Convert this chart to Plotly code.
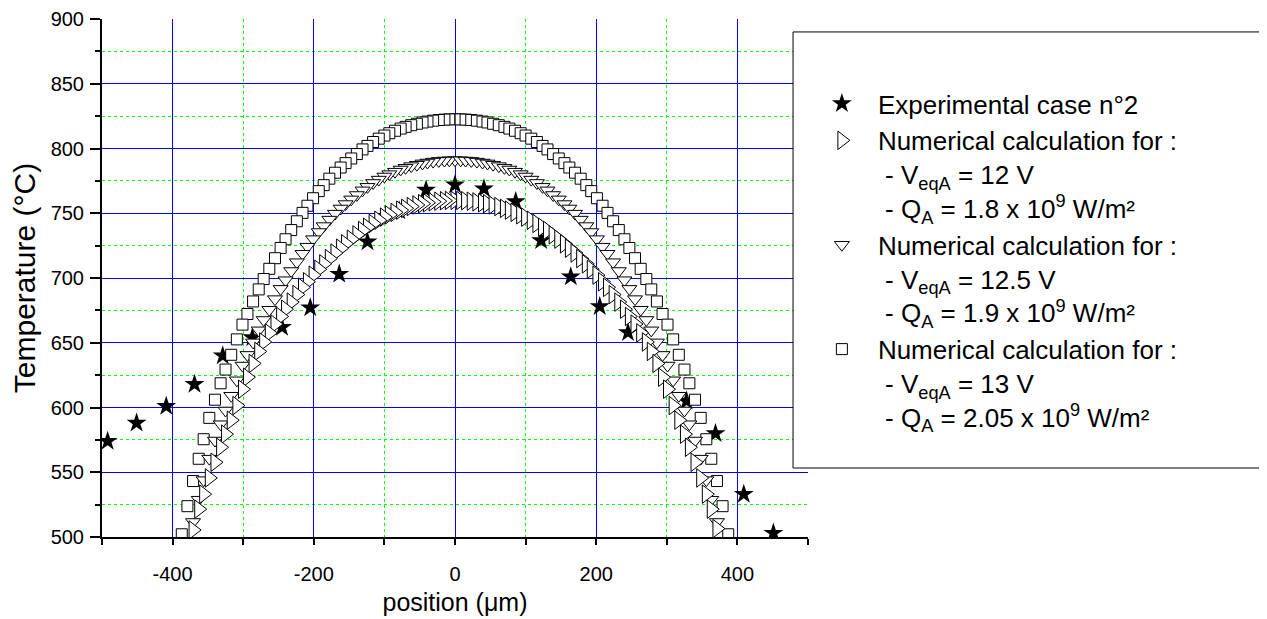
import plotly.graph_objects as go

# experimental points (stars)
X_EXP = [-492, -451, -409, -369, -329, -287, -245, -205, -164, -124, -79, -41, 0,
         41, 86, 122, 164, 205, 245, 328, 369, 409, 451]
Y_EXP = [574, 588, 601, 618, 640, 654, 662, 677, 703, 728, 752, 768, 772,
         769, 759, 729, 701, 678, 658, 605, 580, 533, 503]

# numerical mesh positions, listed from the centre outwards (left half, then right half)
X_NUM = [0, -8, -15, -23, -31, -39, -46, -54, -62, -70, -77, -85, -93, -100, -108, -116,
         -124, -131, -139, -147, -155, -162, -170, -178, -186, -193, -201, -209, -216,
         -224, -232, -240, -247, -255, -263, -271, -278, -286, -294, -301, -309, -317,
         -325, -332, -340, -348, -356, -363, -371, -379, -387,
         8, 15, 23, 31, 39, 46, 54, 62, 70, 77, 85, 93, 100, 108, 116,
         124, 131, 139, 147, 155, 162, 170, 178, 186, 193, 201, 209, 216,
         224, 232, 240, 247, 255, 263, 271, 278, 286, 294, 301, 309, 317,
         325, 332, 340, 348, 356, 363, 371, 379, 387]

# V = 12 V  (triangles right)
Y_12 = [760.0, 759.9, 759.7, 759.3, 758.8, 758.1, 757.4, 756.4, 755.2, 753.8, 752.4, 750.7,
        748.8, 747.0, 744.6, 742.1, 739.2, 736.7, 733.3, 730.0, 726.4, 723.0, 719.3, 715.0,
        710.9, 706.7, 702.2, 697.1, 692.8, 687.2, 681.4, 675.9, 670.3, 664.4, 657.6, 650.6,
        643.3, 634.0, 623.4, 614.1, 601.5, 590.2, 579.4, 569.3, 557.7, 545.6, 533.1, 521.5,
        505.4, None, None,
        759.9, 759.7, 759.3, 758.8, 758.1, 757.4, 756.4, 755.2, 753.8, 752.4, 750.7,
        748.8, 747.0, 744.6, 742.1, 739.2, 736.7, 733.3, 730.0, 726.4, 723.0, 719.3, 715.0,
        710.9, 706.7, 702.2, 697.1, 692.8, 687.2, 681.4, 675.9, 670.3, 664.4, 657.6, 650.6,
        643.3, 634.0, 623.4, 614.1, 601.5, 590.2, 579.4, 569.3, 557.7, 545.6, 533.1, 521.5,
        506.5, None, None]

# V = 12.5 V  (triangles down)
Y_125 = [791.0, 790.9, 790.7, 790.4, 789.9, 789.2, 788.5, 787.5, 786.4, 785.1, 783.8, 782.1,
         780.2, 778.4, 776.0, 773.4, 770.4, 767.7, 764.1, 760.7, 757.1, 753.7, 749.7, 745.1,
         740.1, 735.5, 730.0, 724.2, 718.7, 712.2, 705.4, 698.3, 691.6, 683.7, 675.5, 667.6,
         659.6, 650.3, 640.6, 632.4, 621.0, 609.1, 597.7, 587.1, 574.5, 560.5, 543.9, 528.8,
         511.6, None, None,
         790.9, 790.7, 790.4, 789.9, 789.2, 788.5, 787.5, 786.4, 785.1, 783.8, 782.1,
         780.2, 778.4, 776.0, 773.4, 770.4, 767.7, 764.1, 760.7, 757.1, 753.7, 749.7, 745.1,
         740.1, 735.5, 730.0, 724.2, 718.7, 712.2, 705.4, 698.3, 691.6, 683.7, 675.5, 667.6,
         659.6, 650.3, 640.6, 632.4, 621.0, 609.1, 597.7, 587.1, 574.5, 560.5, 543.9, 528.8,
         511.6, None, None]

# V = 13 V  (squares)
Y_13 = [822.6, 822.5, 822.3, 822.0, 821.5, 820.8, 820.1, 819.1, 818.0, 816.7, 815.4, 813.7,
        811.8, 810.0, 807.6, 805.0, 802.0, 799.3, 795.7, 792.3, 788.7, 785.3, 781.3, 776.7,
        771.7, 767.1, 761.6, 755.8, 750.3, 743.8, 737.0, 729.9, 723.2, 715.3, 707.1, 699.2,
        691.2, 681.9, 672.2, 664.0, 652.6, 640.7, 629.3, 618.7, 606.0, 592.0, 575.5, 560.4,
        543.2, 523.8, 502.1,
        822.5, 822.3, 822.0, 821.5, 820.8, 820.1, 819.1, 818.0, 816.7, 815.4, 813.7,
        811.8, 810.0, 807.6, 805.0, 802.0, 799.3, 795.7, 792.3, 788.7, 785.3, 781.3, 776.7,
        771.7, 767.1, 761.6, 755.8, 750.3, 743.8, 737.0, 729.9, 723.2, 715.3, 707.1, 699.2,
        691.2, 681.9, 672.2, 664.0, 652.6, 640.7, 629.3, 618.7, 606.0, 592.0, 575.5, 560.4,
        543.2, 523.8, 502.1]

# axis ticks
X_TICKS = [-400, -200, 0, 200, 400]
X_TICK_TEXT = ["-400", "-200", "0", "200", "400"]
X_MINOR = [-500, -300, -100, 100, 300, 500]
Y_TICKS = [500, 550, 600, 650, 700, 750, 800, 850, 900]
Y_MINOR = [525, 575, 625, 675, 725, 775, 825, 875]

NAMES = [
    "Experimental case n°2",
    "Numerical calculation for :<br>\u00a0- V<sub>eqA</sub> = 12 V<br>\u00a0- Q<sub>A</sub> = 1.8 x 10<sup>9</sup> W/m²",
    "Numerical calculation for :<br>\u00a0- V<sub>eqA</sub> = 12.5 V<br>\u00a0- Q<sub>A</sub> = 1.9 x 10<sup>9</sup> W/m²",
    "Numerical calculation for :<br>\u00a0- V<sub>eqA</sub> = 13 V<br>\u00a0- Q<sub>A</sub> = 2.05 x 10<sup>9</sup> W/m²",
]

FONT = "Liberation Sans, Arial, sans-serif"

fig = go.Figure()
fig.add_trace(go.Scatter(x=X_EXP, y=Y_EXP, mode='markers', name=NAMES[0], legendrank=1,
                         marker=dict(symbol='star', size=15, color='black', line=dict(width=0))))
fig.add_trace(go.Scatter(x=X_NUM, y=Y_13, mode='markers', name=NAMES[3], legendrank=4,
                         marker=dict(symbol='square', size=11, color='white', line=dict(width=1, color='black'))))
fig.add_trace(go.Scatter(x=X_NUM, y=Y_125, mode='markers', name=NAMES[2], legendrank=3,
                         marker=dict(symbol='triangle-down', size=13, color='white', line=dict(width=1, color='black'))))
fig.add_trace(go.Scatter(x=X_NUM, y=Y_12, mode='markers', name=NAMES[1], legendrank=2,
                         marker=dict(symbol='triangle-right', size=16, color='white', line=dict(width=1, color='black'))))

axis_common = dict(
    showline=True, linecolor='black', linewidth=2, mirror=False, zeroline=False,
    automargin=False,
    showgrid=True, gridcolor='rgb(0,0,255)', gridwidth=1,
    ticks='outside', tickcolor='black', tickwidth=2,
    tickfont=dict(family=FONT, size=20, color='black'),
)

# the page body adds an 8 px offset, so the margins are shifted to compensate
fig.update_layout(
    width=1267, height=619,
    margin=dict(l=94, r=467, t=11, b=90),
    paper_bgcolor='white', plot_bgcolor='white',
    font=dict(family=FONT, color='black'),
    xaxis=dict(axis_common, range=[-500, 500], tickmode='array', tickvals=X_TICKS, ticktext=X_TICK_TEXT,
               ticklen=6, ticklabelstandoff=12,
               minor=dict(tickmode='array', tickvals=X_MINOR, ticks='outside', ticklen=6,
                          tickcolor='black', tickwidth=2,
                          showgrid=True, gridcolor='rgb(0,255,0)', griddash='dot', gridwidth=1),
               title=dict(text='position (μm)', font=dict(family=FONT, size=25), standoff=9)),
    yaxis=dict(axis_common, range=[500, 900], tickmode='array', tickvals=Y_TICKS,
               ticklen=10, ticklabelstandoff=2,
               minor=dict(tickmode='array', tickvals=Y_MINOR, ticks='outside', ticklen=5,
                          tickcolor='black', tickwidth=2,
                          showgrid=True, gridcolor='rgb(0,255,0)', griddash='dot', gridwidth=1),
               title=dict(text='Temperature (°C)', font=dict(family=FONT, size=30), standoff=12)),
    legend=dict(x=0.997, y=0.882, xanchor='left', yanchor='top', itemwidth=62,
                bgcolor='rgba(0,0,0,0)', borderwidth=0, valign='top',
                font=dict(family=FONT, size=26, color='black'), traceorder='normal'),
    shapes=[dict(type='rect', xref='paper', yref='paper', x0=0.9788, x1=1.6435, y0=0.1332, y1=0.975,
                 line=dict(color='black', width=1), fillcolor='white', layer='above')],
)

fig.write_html("out.html")
